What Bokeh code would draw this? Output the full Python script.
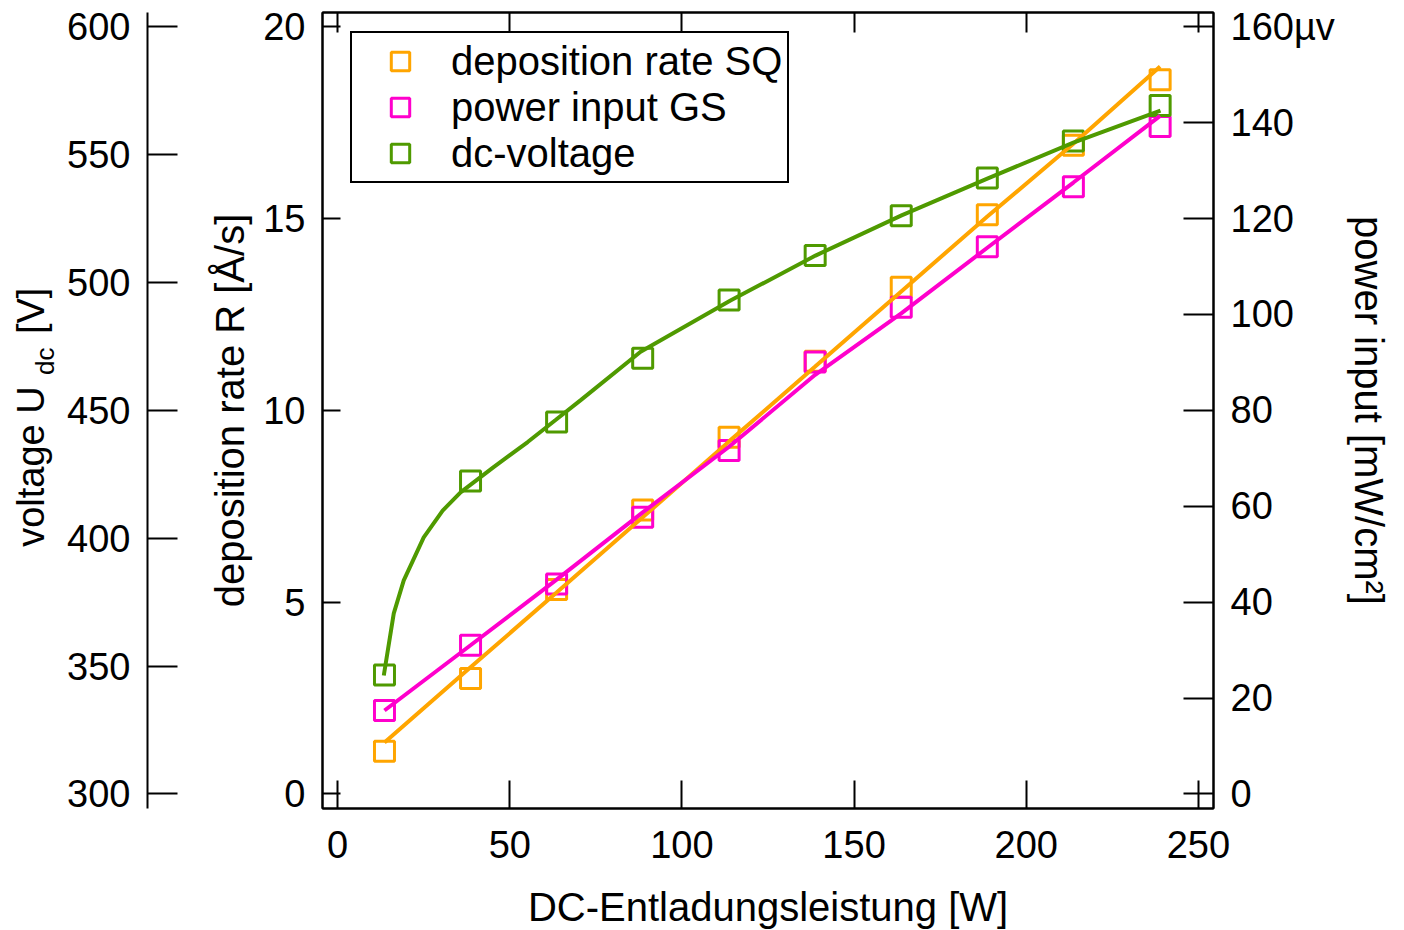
from math import pi
from bokeh.plotting import figure
from bokeh.layouts import row
from bokeh.core.properties import value
from bokeh.models import Range1d, LinearAxis, FixedTicker, Legend, LegendItem
from bokeh.embed import file_html
from bokeh.resources import INLINE

# ---------------- data ----------------
power_W = [13.6, 38.6, 63.6, 88.6, 113.7, 138.7, 163.7, 188.7, 213.7, 238.9]
rate_SQ = [1.11, 3.01, 5.33, 7.40, 9.30, 11.28, 13.21, 15.10, 16.91, 18.62]
rate_SQ_line = [1.34, 3.30, 5.25, 7.21, 9.19, 11.14, 13.10, 15.05, 16.95, 18.96]
power_GS = [17.4, 31.0, 43.8, 57.7, 71.6, 90.1, 101.5, 114.1, 126.6, 139.2]
power_GS_line = [17.4, 31.0, 44.7, 58.7, 72.4, 87.4, 100.2, 113.9, 127.5, 141.4]
voltage_dc = [346.5, 422.4, 445.4, 470.4, 493.1, 510.5, 526.1, 540.8, 555.3, 569.2]
voltage_fit_W = [13.4, 16.3, 19.2, 25.0, 30.5, 35.7, 45.3, 55.2, 63.3, 70.6,
                 88.0, 114.1, 138.8, 163.8, 188.7, 213.7, 239.0]
voltage_fit_V = [346.3, 370.6, 383.5, 400.3, 410.8, 417.9, 427.8, 437.6, 446.2, 454.0,
                 472.9, 492.9, 510.5, 526.2, 540.6, 554.7, 567.2]

x_ticks = [0, 50, 100, 150, 200, 250]
rate_ticks = [0, 5, 10, 15, 20]
volt_ticks = [300, 350, 400, 450, 500, 550, 600]
power_ticks = [0, 20, 40, 60, 80, 100, 120, 140, 160]

labels = ["deposition rate SQ", "power input GS", "dc-voltage"]
colors = ["#FFA500", "#FF00CC", "#4F9A00"]

FONT = "Liberation Sans"

# ---------------- layout constants ----------------
SIDE_W = 64                      # narrow strip holding the outer-left axis title
FRAME_L, FRAME_T, FRAME_W, FRAME_H = 322, 12, 891, 796
PAGE_H = 930
BOTTOM = PAGE_H - FRAME_T - FRAME_H
X0, X1 = -4.4, 254.4
R0, R1 = -0.38, 20.37
V0, V1 = 294.3, 605.55
P0, P1 = -3.04, 162.96

p = figure(frame_width=FRAME_W, frame_height=FRAME_H,
           x_range=Range1d(X0, X1), y_range=Range1d(R0, R1),
           output_backend="svg", toolbar_location=None,
           min_border_left=FRAME_L - SIDE_W, min_border_right=0, min_border_top=FRAME_T,
           min_border_bottom=BOTTOM,
           background_fill_color="white", border_fill_color="white")
p.extra_y_ranges = {"volt": Range1d(V0, V1), "power": Range1d(P0, P1)}
p.grid.visible = False
p.outline_line_color = "black"
p.outline_line_width = 2


def style(ax, tick_in, standoff=17, fs="38px"):
    ax.major_tick_in = tick_in
    ax.major_tick_out = 0
    ax.minor_tick_in = 0
    ax.minor_tick_out = 0
    ax.minor_tick_line_color = None
    ax.axis_line_color = "black"
    ax.axis_line_width = 2
    ax.major_tick_line_color = "black"
    ax.major_tick_line_width = 2
    ax.major_label_text_font = FONT
    ax.major_label_text_font_size = fs
    ax.major_label_text_color = "black"
    ax.major_label_standoff = standoff
    ax.axis_label_text_font = FONT
    ax.axis_label_text_font_size = "40px"
    ax.axis_label_text_font_style = "normal"
    ax.axis_label_text_color = "black"


# bottom x axis
xa = p.xaxis[0]
xa.ticker = FixedTicker(ticks=x_ticks)
style(xa, 28, standoff=22)
xa.axis_label = "DC-Entladungsleistung [W]"
xa.axis_label_standoff = 24

# inner left: deposition rate
ya = p.yaxis[0]
ya.ticker = FixedTicker(ticks=rate_ticks)
ya.axis_label = "deposition rate R [Å/s]"
style(ya, 18, standoff=17)
ya.axis_label_standoff = 8

# spacer between the two left axes (invisible white tick, no drawn labels)
spacer = LinearAxis(y_range_name="volt", ticker=FixedTicker(ticks=[volt_ticks[0]]))
spacer.major_tick_out = 58
spacer.major_tick_in = 0
spacer.major_tick_line_color = "white"
spacer.major_tick_line_width = 1
spacer.minor_tick_line_color = None
spacer.axis_line_color = None
spacer.major_label_standoff = 0
spacer.major_label_text_font_size = "1px"
spacer.major_label_text_color = None
p.add_layout(spacer, "left")

# outer left: voltage
va = LinearAxis(y_range_name="volt", ticker=FixedTicker(ticks=volt_ticks))
style(va, 30, standoff=17)
p.add_layout(va, "left")

# right: power input
pa = LinearAxis(y_range_name="power", ticker=FixedTicker(ticks=power_ticks),
                axis_label="power input [mW/cm²]")
style(pa, 30, standoff=17)
pa.major_label_overrides = {160: "160µv"}
pa.axis_label_standoff = 9
p.add_layout(pa, "right")

# top: ticks only, labels not drawn
ta = LinearAxis(ticker=FixedTicker(ticks=x_ticks))
style(ta, 20, standoff=0, fs="1px")
ta.major_label_text_color = None
p.add_layout(ta, "above")

# ---------------- marks ----------------
r_sq = p.scatter(power_W, rate_SQ, marker="square", size=20, fill_color=None,
                 line_color=colors[0], line_width=3)
r_gs = p.scatter(power_W, power_GS, marker="square", size=20, fill_color=None,
                 line_color=colors[1], line_width=3, y_range_name="power")
r_dc = p.scatter(power_W, voltage_dc, marker="square", size=20, fill_color=None,
                 line_color=colors[2], line_width=3, y_range_name="volt")
p.line(power_W, rate_SQ_line, line_color=colors[0], line_width=4)
p.line(power_W, power_GS_line, line_color=colors[1], line_width=4, y_range_name="power")
p.line(voltage_fit_W, voltage_fit_V, line_color=colors[2], line_width=4, y_range_name="volt")

legend = Legend(items=[LegendItem(label=labels[0], renderers=[r_sq]),
                       LegendItem(label=labels[1], renderers=[r_gs]),
                       LegendItem(label=labels[2], renderers=[r_dc])],
                location=(28, 625), margin=0, padding=5, spacing=0,
                glyph_width=86, glyph_height=46, label_standoff=8,
                label_text_font=FONT, label_text_font_size="40px",
                label_text_color="black",
                border_line_color="black", border_line_width=2, border_line_alpha=1.0,
                background_fill_color="white", background_fill_alpha=1.0)
p.add_layout(legend)

# ---------------- narrow strip with "voltage U_dc [V]" ----------------
# its frame is aligned with the main frame; y range is given in page pixels (top-down)
side = figure(width=SIDE_W, height=PAGE_H, x_range=Range1d(0, SIDE_W),
              y_range=Range1d(FRAME_T + FRAME_H, FRAME_T),
              output_backend="svg", toolbar_location=None,
              x_axis_location=None, y_axis_location=None,
              min_border_left=0, min_border_right=0,
              min_border_top=FRAME_T, min_border_bottom=BOTTOM,
              outline_line_color=None, background_fill_color="white",
              border_fill_color="white")
side.grid.visible = False
txt = dict(angle=pi / 2, text_align="left", text_baseline="alphabetic",
           text_font=value(FONT), text_color="black")
side.text(x=[30], y=[547], text=["voltage U"], text_font_size="38px", **txt)
side.text(x=[44], y=[375], text=["dc"], text_font_size="26px", **txt)
side.text(x=[30], y=[334], text=["[V]"], text_font_size="38px", **txt)

layout = row(side, p)
open("out.html", "w").write(file_html(layout, INLINE))
